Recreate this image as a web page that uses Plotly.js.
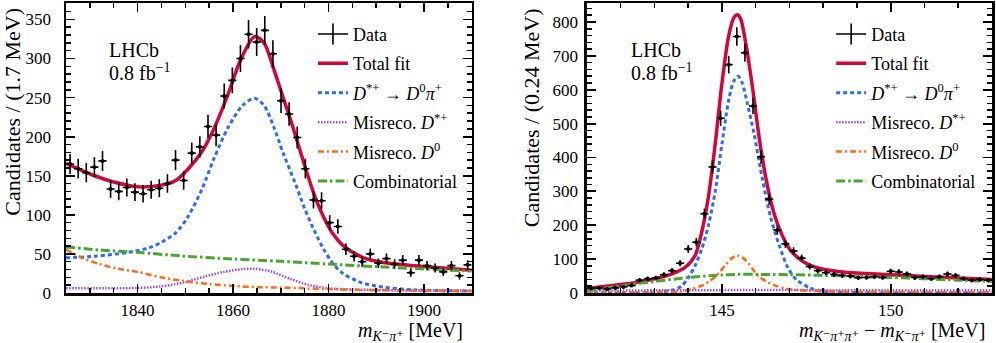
<!DOCTYPE html>
<html>
<head>
<meta charset="utf-8">
<script src="https://cdn.plot.ly/plotly-3.0.1.min.js"></script>
<style>
  html, body { margin: 0; padding: 0; background: #fff; }
  #chart { width: 996px; height: 343px; }
</style>
</head>
<body>
<div id="chart"></div>
<script>
// ---- left panel: m(K- pi+), 1.7 MeV bins from 1825 ----
const leftBinLo = 1825;
const leftBinWidth = 1.7;
const leftCounts = [165, 159, 154, 161, 169, 133, 130, 135, 129, 127,
                    132, 134, 140, 170, 144, 179, 187, 213, 202, 252,
                    272, 300, 331, 321, 336, 306, 246, 229, 199, 159,
                    119, 118, 90, 85, 56, 47, 40, 50, 38, 44,
                    37, 42, 26, 42, 35, 32, 27, 35, 22, 36];

const leftTotalX = [1825, 1831, 1835, 1840, 1845, 1848, 1850.5, 1853.5, 1856, 1859, 1861.5, 1864.5,
                    1866.5, 1868.5, 1870.5, 1872.5, 1875, 1877, 1879, 1881, 1883, 1887, 1891.5, 1898, 1910];
const leftTotalY = [166, 150, 142, 136, 138, 144, 158, 181, 210, 255, 297, 328,
                    320, 287, 250, 213, 163, 126, 97, 75, 61, 46, 39, 35, 29];

const leftSignalX = [1825, 1831, 1838, 1842.5, 1845, 1848, 1850.5, 1853.5, 1856, 1859, 1862, 1864.5,
                     1866.5, 1868.5, 1870.5, 1873, 1875, 1877, 1879, 1881, 1883, 1887, 1891.5, 1898, 1910];
const leftSignalY = [45, 47, 52, 58, 65, 77, 97, 133, 172, 212, 240, 249,
                     240, 213, 179, 141, 108, 80, 56, 37, 25, 13, 7.5, 4, 2.5];

const leftMisDstX = [1825, 1835, 1840, 1845, 1850, 1854, 1858, 1862, 1864.5, 1868, 1872, 1876, 1880, 1885, 1895, 1910];
const leftMisDstY = [6, 6, 6.5, 8.5, 14, 21, 27, 30.5, 31, 27.5, 18, 10, 6, 4.5, 3.5, 3];

const leftMisD0X = [1825, 1828, 1832, 1836, 1840, 1845, 1850, 1855, 1860, 1865, 1870, 1875, 1880, 1890, 1910];
const leftMisD0Y = [56, 46, 37, 31, 27, 20, 15, 11.5, 9, 7.5, 7, 6, 5, 3.5, 2.5];

const leftCombX = [1825, 1832, 1840, 1849, 1860, 1870, 1880, 1894, 1910];
const leftCombY = [59, 55, 52, 47.5, 43.5, 40.5, 37, 32.5, 28];

// ---- right panel: delta m, 0.24 MeV bins from 141 ----
const rightBinLo = 141;
const rightBinWidth = 0.24;
const rightCounts = [14, 15, 12, 15, 18, 22, 38, 42, 44, 54,
                     66, 88, 130, 150, 234, 372, 516, 674, 757, 709,
                     552, 402, 277, 186, 145, 124, 103, 78, 66, 60,
                     55, 52, 50, 45, 46, 48, 46, 64, 62, 56,
                     46, 48, 42, 48, 56, 52, 42, 38, 40, 38];

const rightTotalX = [141, 141.5, 142, 142.5, 143, 143.5, 143.9, 144.2, 144.4, 144.6, 144.8, 145, 145.2,
                     145.35, 145.45, 145.55, 145.7, 145.9, 146.1, 146.3, 146.5, 146.7, 147, 147.3,
                     147.6, 148, 148.5, 149, 150, 151, 152, 153];
const rightTotalY = [14, 19, 25, 32, 42, 56, 75, 110, 180, 285, 440, 620, 760,
                     812, 821, 810, 740, 610, 460, 340, 250, 190, 130, 100,
                     82, 70, 63, 59, 54, 49, 44, 40];

const rightSignalX = [141, 143, 143.5, 143.8, 144, 144.2, 144.4, 144.6, 144.8, 145, 145.2, 145.35, 145.48,
                      145.6, 145.75, 145.95, 146.2, 146.45, 146.7, 146.95, 147.2, 147.6, 148, 149, 153];
const rightSignalY = [0.5, 2, 8, 20, 45, 80, 130, 200, 300, 440, 570, 625, 640,
                      620, 560, 470, 335, 220, 140, 75, 40, 15, 5, 1.5, 0.5];

const rightMisDstX = [141, 142, 143, 145, 148, 150, 153];
const rightMisDstY = [6, 7, 8, 8.5, 8.5, 8, 8];

const rightMisD0X = [141, 143, 143.8, 144.1, 144.4, 144.65, 144.9, 145.1, 145.3, 145.45, 145.6,
                     145.75, 145.95, 146.1, 146.35, 146.6, 146.9, 147.3, 148, 150, 153];
const rightMisD0Y = [1, 2, 5, 11, 22, 36, 58, 82, 103, 111, 105,
                     92, 65, 48, 32, 21, 13, 8, 5, 3, 2];

const rightCombX = [141, 141.5, 142, 142.5, 143, 143.5, 144, 144.5, 145, 145.5, 146, 147, 148, 149, 150, 151, 152, 153];
const rightCombY = [7, 14, 21, 28, 34, 40, 46, 50, 53, 55, 55, 54, 52, 49, 46, 42, 38, 34];

const legendNames = [
    "Data",
    "Total fit",
    "<i>D</i><sup>*+</sup> → <i>D</i><sup>0</sup><i>π</i><sup>+</sup>",
    "Misreco. <i>D</i><sup>*+</sup>",
    "Misreco. <i>D</i><sup>0</sup>",
    "Combinatorial"
];

const serif = '"Liberation Serif", "DejaVu Serif", serif';

const lineStyles = [
    { color: "#d1063b", width: 3.5, dash: "solid" },
    { color: "#2b6cf0", width: 3, dash: "4px,3px" },
    { color: "#9a47f5", width: 2.5, dash: "1.5px,1.5px" },
    { color: "#ff6a13", width: 2.5, dash: "6px,3px,2px,3px" },
    { color: "#4aa52e", width: 3, dash: "9px,3px,2.5px,3px" }
];

function binCentres(lo, width, n) {
    const xs = [];
    for (let i = 0; i < n; i++) xs.push(lo + (i + 0.5) * width);
    return xs;
}

function panelTraces(xa, ya, legendId, binLo, binWidth, counts, curves) {
    const traces = [];

    // legend entry for the data: horizontal bar with a vertical tick, like an error cross
    traces.push({
        x: [null], y: [null],
        type: "scatter", mode: "lines+markers",
        line: { color: "black", width: 1.6 },
        marker: { symbol: "line-ns", size: 15, color: "black", line: { color: "black", width: 1.6 } },
        name: legendNames[0],
        legend: legendId, legendgroup: legendId + "0",
        xaxis: xa, yaxis: ya
    });

    curves.forEach((c, k) => {
        traces.push({
            x: c[0], y: c[1],
            type: "scatter", mode: "lines",
            line: { ...lineStyles[k], shape: "spline", smoothing: 0.8 },
            name: legendNames[k + 1],
            legend: legendId, legendgroup: legendId + (k + 1),
            xaxis: xa, yaxis: ya,
            hoverinfo: "skip"
        });
    });

    traces.push({
        x: binCentres(binLo, binWidth, counts.length),
        y: counts,
        type: "scatter", mode: "markers",
        marker: { color: "black", size: 4 },
        error_y: { type: "sqrt", color: "black", thickness: 1.6, width: 0 },
        error_x: { type: "constant", value: binWidth / 2, color: "black", thickness: 1.6, width: 0 },
        name: legendNames[0],
        showlegend: false,
        xaxis: xa, yaxis: ya
    });
    return traces;
}

const traces = [
    ...panelTraces("x", "y", "legend", leftBinLo, leftBinWidth, leftCounts, [
        [leftTotalX, leftTotalY], [leftSignalX, leftSignalY], [leftMisDstX, leftMisDstY],
        [leftMisD0X, leftMisD0Y], [leftCombX, leftCombY]
    ]),
    ...panelTraces("x2", "y2", "legend2", rightBinLo, rightBinWidth, rightCounts, [
        [rightTotalX, rightTotalY], [rightSignalX, rightSignalY], [rightMisDstX, rightMisDstY],
        [rightMisD0X, rightMisD0Y], [rightCombX, rightCombY]
    ])
];

function axis(extra) {
    return Object.assign({
        showline: true, linecolor: "black", linewidth: 2.5, mirror: "allticks",
        ticks: "inside", ticklen: 9, tickwidth: 1.8, tickcolor: "black",
        showgrid: false, zeroline: false, fixedrange: true,
        tickfont: { family: serif, size: 17, color: "black" }
    }, extra);
}

function minorTicks(step) {
    return { dtick: step, ticks: "inside", ticklen: 5, tickwidth: 1.5, tickcolor: "black", showgrid: false };
}

function legendBox(x) {
    return {
        x: x, y: 0.956, xanchor: "left", yanchor: "top",
        bgcolor: "rgba(0,0,0,0)", borderwidth: 0,
        font: { family: serif, size: 18, color: "black" },
        itemwidth: 30, traceorder: "grouped", tracegroupgap: 3
    };
}

function note(xref, x, yref, y, text, size, extra) {
    return Object.assign({
        xref: xref, x: x, yref: yref, y: y, text: text, showarrow: false,
        xanchor: "left", yanchor: "middle",
        font: { family: serif, size: size, color: "black" }
    }, extra || {});
}

const layout = {
    width: 996, height: 343,
    margin: { l: 66, r: 4, t: 3, b: 50 },
    paper_bgcolor: "white", plot_bgcolor: "white",
    font: { family: serif, color: "black" },
    xaxis: axis({ domain: [0, 0.4381], range: [1825, 1910], dtick: 20, tick0: 1840,
                  minor: minorTicks(5), anchor: "y" }),
    yaxis: axis({ range: [0, 371], dtick: 50, ticklabelstandoff: 9,
                  minor: minorTicks(10), anchor: "x" }),
    xaxis2: axis({ domain: [0.5626, 1], range: [141, 153], dtick: 5, tick0: 145,
                   minor: minorTicks(1), anchor: "y2" }),
    yaxis2: axis({ range: [0, 856], dtick: 100, ticklabelstandoff: 3,
                   minor: minorTicks(20), anchor: "x2" }),
    legend: legendBox(0.2667),
    legend2: legendBox(0.8263),
    showlegend: true,
    annotations: [
        note("x domain", 0.101, "y domain", 0.839, "LHCb", 20),
        note("x domain", 0.101, "y domain", 0.761, "0.8 fb<sup>−1</sup>", 20),
        note("x2 domain", 0.105, "y2 domain", 0.839, "LHCb", 20),
        note("x2 domain", 0.105, "y2 domain", 0.761, "0.8 fb<sup>−1</sup>", 20),
        note("x domain", 0.983, "paper", -0.132,
             "<i>m</i><sub><i>K</i>⁻<i>π</i>⁺</sub> [MeV]", 20, { xanchor: "right" }),
        note("x2 domain", 0.988, "paper", -0.132,
             "<i>m</i><sub><i>K</i>⁻<i>π</i>⁺<i>π</i>⁺</sub> − <i>m</i><sub><i>K</i>⁻<i>π</i>⁺</sub> [MeV]", 20,
             { xanchor: "right" }),
        note("paper", -0.0575, "paper", 0.99, "Candidates / (1.7 MeV)", 22,
             { textangle: -90, xanchor: "center", yanchor: "top" }),
        note("paper", 0.503, "paper", 0.99, "Candidates / (0.24 MeV)", 22,
             { textangle: -90, xanchor: "center", yanchor: "top" })
    ]
};

Plotly.newPlot("chart", traces, layout, { displayModeBar: false, staticPlot: true });
</script>
</body>
</html>
